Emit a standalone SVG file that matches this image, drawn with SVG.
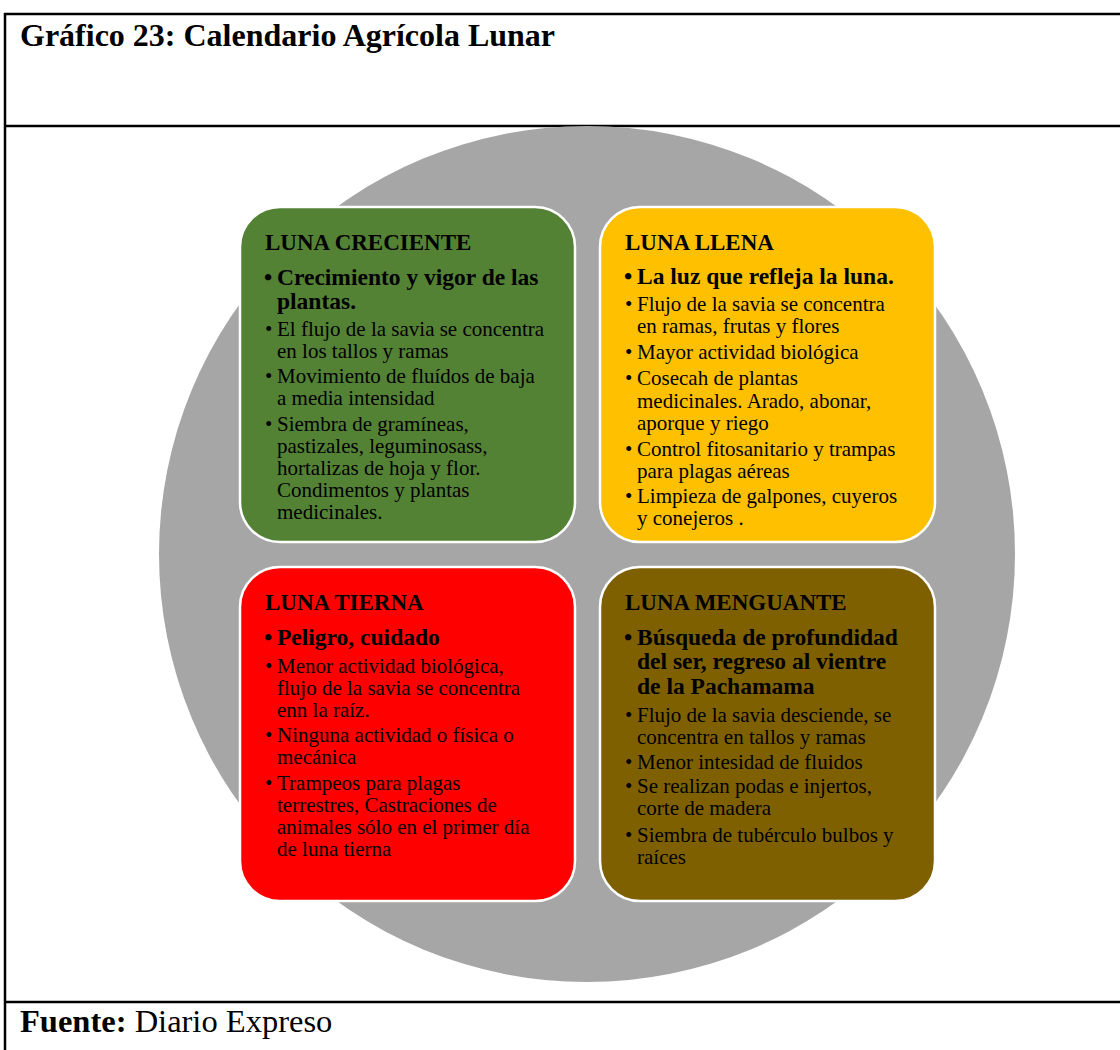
<svg xmlns="http://www.w3.org/2000/svg" width="1120" height="1050" viewBox="0 0 1120 1050">
<style>
text{font-family:"Liberation Serif","Times New Roman",serif;fill:#000}
.h{font-size:23px;font-weight:bold}
.b{font-size:23.5px;font-weight:bold}
.r{font-size:21px}
.box{stroke:#fff;stroke-width:2.5}
.frame{stroke:#000;stroke-width:2.5;fill:none}
</style>
<rect width="1120" height="1050" fill="#fff"/>
<g id="frame">
<line class="frame" x1="5" y1="13" x2="5" y2="1050"/>
<line class="frame" x1="4" y1="14" x2="1120" y2="14"/>
<line class="frame" x1="4" y1="126" x2="1120" y2="126"/>
<line class="frame" x1="4" y1="1002" x2="1120" y2="1002"/>
<text x="20" y="46" style="font-size:32px;font-weight:bold">Gráfico 23: Calendario Agrícola Lunar</text>
<text x="20" y="1032" style="font-size:32.5px"><tspan font-weight="bold">Fuente:</tspan> Diario Expreso</text>
</g>
<circle id="circle" cx="587" cy="554" r="428" fill="#a6a6a6"/>
<g id="creciente">
<rect class="box" x="240" y="207" width="335" height="335" rx="40" fill="#548235"/>
<text class="h" x="265" y="250">LUNA CRECIENTE</text>
<text class="b" x="264" y="285">•</text>
<text class="b" x="277" y="285">Crecimiento y vigor de las</text>
<text class="b" x="277" y="309">plantas.</text>
<text class="r" x="265" y="336">•</text><text class="r" x="277" y="336">El flujo de la savia se concentra</text>
<text class="r" x="277" y="358">en los tallos y ramas</text>
<text class="r" x="265" y="383">•</text><text class="r" x="277" y="383">Movimiento de fluídos de baja</text>
<text class="r" x="277" y="405">a media intensidad</text>
<text class="r" x="265" y="431">•</text><text class="r" x="277" y="431">Siembra de gramíneas,</text>
<text class="r" x="277" y="453">pastizales, leguminosass,</text>
<text class="r" x="277" y="475">hortalizas de hoja y flor.</text>
<text class="r" x="277" y="497">Condimentos y plantas</text>
<text class="r" x="277" y="519">medicinales.</text>
</g>
<g id="llena">
<rect class="box" x="600" y="207" width="335" height="335" rx="40" fill="#ffc000"/>
<text class="h" x="625" y="250">LUNA LLENA</text>
<text class="b" x="624" y="284">•</text>
<text class="b" x="637" y="284">La luz que refleja la luna.</text>
<text class="r" x="625" y="311">•</text><text class="r" x="637" y="311">Flujo de la savia se concentra</text>
<text class="r" x="637" y="333">en ramas, frutas y flores</text>
<text class="r" x="625" y="359">•</text><text class="r" x="637" y="359">Mayor actividad biológica</text>
<text class="r" x="625" y="385">•</text><text class="r" x="637" y="385">Cosecah de plantas</text>
<text class="r" x="637" y="408">medicinales. Arado, abonar,</text>
<text class="r" x="637" y="430">aporque y riego</text>
<text class="r" x="625" y="456">•</text><text class="r" x="637" y="456">Control fitosanitario y trampas</text>
<text class="r" x="637" y="478">para plagas aéreas</text>
<text class="r" x="625" y="503">•</text><text class="r" x="637" y="503">Limpieza de galpones, cuyeros</text>
<text class="r" x="637" y="525">y conejeros .</text>
</g>
<g id="tierna">
<rect class="box" x="240" y="567" width="335" height="334" rx="40" fill="#ff0000"/>
<text class="h" x="265" y="610">LUNA TIERNA</text>
<text class="b" x="264" y="645">•</text>
<text class="b" x="277" y="645">Peligro, cuidado</text>
<text class="r" x="265" y="673">•</text><text class="r" x="277" y="673">Menor actividad biológica,</text>
<text class="r" x="277" y="695">flujo de la savia se concentra</text>
<text class="r" x="277" y="717">enn la raíz.</text>
<text class="r" x="265" y="742">•</text><text class="r" x="277" y="742">Ninguna actividad o física o</text>
<text class="r" x="277" y="764">mecánica</text>
<text class="r" x="265" y="790">•</text><text class="r" x="277" y="790">Trampeos para plagas</text>
<text class="r" x="277" y="812">terrestres, Castraciones de</text>
<text class="r" x="277" y="834">animales sólo en el primer día</text>
<text class="r" x="277" y="856">de luna tierna</text>
</g>
<g id="menguante">
<rect class="box" x="600" y="567" width="335" height="334" rx="40" fill="#7f6000"/>
<text class="h" x="625" y="610">LUNA MENGUANTE</text>
<text class="b" x="624" y="645">•</text>
<text class="b" x="637" y="645">Búsqueda de profundidad</text>
<text class="b" x="637" y="669">del ser, regreso al vientre</text>
<text class="b" x="637" y="694">de la Pachamama</text>
<text class="r" x="625" y="722">•</text><text class="r" x="637" y="722">Flujo de la savia desciende, se</text>
<text class="r" x="637" y="744">concentra en tallos y ramas</text>
<text class="r" x="625" y="769">•</text><text class="r" x="637" y="769">Menor intesidad de fluidos</text>
<text class="r" x="625" y="793">•</text><text class="r" x="637" y="793">Se realizan podas e injertos,</text>
<text class="r" x="637" y="815">corte de madera</text>
<text class="r" x="625" y="842">•</text><text class="r" x="637" y="842">Siembra de tubérculo bulbos y</text>
<text class="r" x="637" y="864">raíces</text>
</g>
</svg>
